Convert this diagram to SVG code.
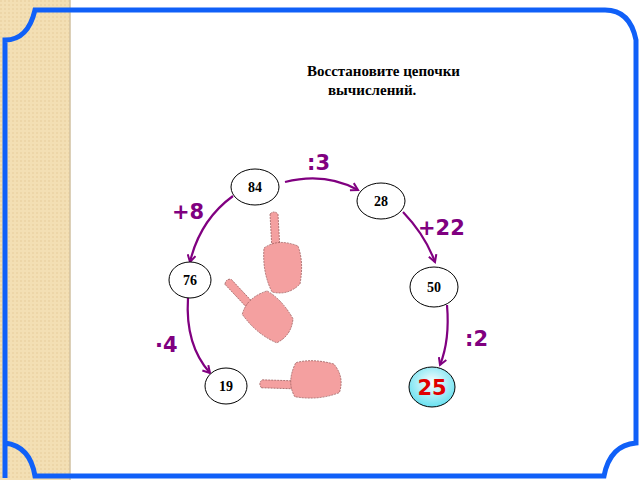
<svg xmlns="http://www.w3.org/2000/svg" width="640" height="480" viewBox="0 0 640 480">
<defs>
<pattern id="dots" width="4" height="4" patternUnits="userSpaceOnUse"><rect width="4" height="4" fill="#f3dfb4"/><circle cx="1" cy="1" r="0.8" fill="#e6cc99"/></pattern>
<radialGradient id="cy" cx="50%" cy="40%" r="60%"><stop offset="0" stop-color="#ffffff"/><stop offset="1" stop-color="#66e0f0"/></radialGradient>
<marker id="ah" markerWidth="10" markerHeight="10" refX="8" refY="5" orient="auto" markerUnits="userSpaceOnUse"><path d="M1,1 L8,5 L1,9" fill="none" stroke="#800080" stroke-width="2"/></marker>
<g id="hand">
<path d="M-8,-48 Q-4,-52 0,-48 L2,-12 L-6,-12 Z" fill="#f4a0a0" stroke="#a06060" stroke-width="0.8" stroke-dasharray="2 1"/>
<path d="M-14,-14 Q0,-24 20,-16 Q26,0 22,22 Q10,34 -6,30 Q-16,10 -14,-14 Z" fill="#f4a0a0" stroke="#a06060" stroke-width="0.8" stroke-dasharray="2 1"/>
</g>
</defs>
<style>
.n ellipse{fill:#fff;stroke:#000;stroke-width:1}
.n text{font-family:"Liberation Serif",serif;font-weight:bold;font-size:14px;text-anchor:middle}
.c path{fill:none;stroke:#800080;stroke-width:2.2;marker-end:url(#ah)}
.op{font-family:"DejaVu Sans",sans-serif;font-weight:bold;font-size:21px;fill:#800080}
</style>
<rect width="640" height="480" fill="#fff"/>
<rect x="0" y="0" width="70" height="480" fill="url(#dots)"/>
<line x1="70" y1="0" x2="70" y2="480" stroke="#d0c0a0" stroke-width="1.5"/>
<path d="M5,478 V40 Q28,40 35,10 H605 Q630,10 636,40 V443 Q610,445 604,476 H35 Q30,446 5,443" fill="none" stroke="#1060f8" stroke-width="5"/>
<text font-family="Liberation Serif,serif" font-weight="bold" font-size="15" x="307" y="76">Восстановите цепочки</text>
<text font-family="Liberation Serif,serif" font-weight="bold" font-size="15" x="328" y="95">вычислений.</text>
<g class="c">
<path d="M285,182 Q325,172 358,190"/>
<path d="M233,196 Q200,220 190,262"/>
<path d="M403,212 Q425,235 435,262"/>
<path d="M447,305 Q450,340 440,365"/>
<path d="M188,298 Q185,345 210,373"/>
</g>
<text class="op" x="307" y="170">:3</text>
<text class="op" x="172" y="219">+8</text>
<text class="op" x="418" y="235">+22</text>
<text class="op" x="465" y="346">:2</text>
<text class="op" x="155" y="352">·4</text>
<g id="n84" class="n"><ellipse cx="255" cy="187" rx="24" ry="18"/><text x="255" y="192">84</text></g>
<g id="n28" class="n"><ellipse cx="381" cy="201" rx="24" ry="18"/><text x="381" y="206">28</text></g>
<g id="n76" class="n"><ellipse cx="190" cy="280" rx="21" ry="18"/><text x="190" y="285">76</text></g>
<g id="n50" class="n"><ellipse cx="434" cy="287" rx="24" ry="20"/><text x="434" y="292">50</text></g>
<g id="n19" class="n"><ellipse cx="226" cy="386" rx="21" ry="18"/><text x="226" y="391">19</text></g>
<g id="n25"><ellipse cx="432" cy="387" rx="23" ry="20" fill="url(#cy)" stroke="#000"/><text x="432" y="395" font-family="DejaVu Sans,sans-serif" font-weight="bold" font-size="21" fill="#e00000" text-anchor="middle">25</text></g>
<use href="#hand" x="278" y="262"/>
<use href="#hand" transform="translate(262,316) rotate(-40)"/>
<use href="#hand" transform="translate(310,384) rotate(-85)"/>
</svg>
